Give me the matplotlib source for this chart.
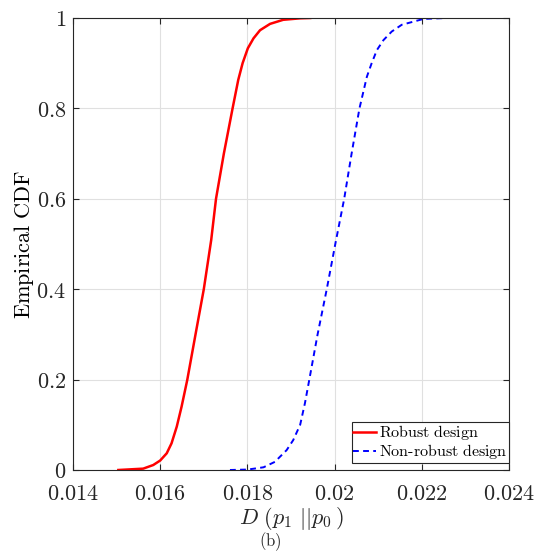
import numpy as np
import matplotlib
matplotlib.use('Agg')
import matplotlib.pyplot as plt
from matplotlib.ticker import FixedLocator, FuncFormatter

# Empirical CDF points
robust_x = [0.01504, 0.01561, 0.01584, 0.01600, 0.01615, 0.01626, 0.01638, 0.01649,
            0.01662, 0.01681, 0.01700, 0.01717, 0.01728, 0.01746, 0.01766, 0.01779,
            0.01789, 0.01801, 0.01814, 0.01829, 0.01852, 0.01882, 0.01921, 0.01944]
robust_y = [0.0, 0.003, 0.011, 0.021, 0.037, 0.059, 0.096, 0.140,
            0.199, 0.300, 0.400, 0.509, 0.600, 0.700, 0.800, 0.863,
            0.900, 0.933, 0.955, 0.973, 0.987, 0.996, 0.9993, 1.0]

nonrobust_x = [0.01760, 0.01801, 0.01837, 0.01863, 0.01890, 0.01905, 0.01921, 0.01932,
               0.01942, 0.01961, 0.01982, 0.02002, 0.02022, 0.02039, 0.02057, 0.02074,
               0.02085, 0.02097, 0.02112, 0.02131, 0.02154, 0.02181, 0.02204, 0.02257]
nonrobust_y = [0.0, 0.001, 0.006, 0.018, 0.044, 0.066, 0.100, 0.148,
               0.200, 0.300, 0.400, 0.502, 0.600, 0.700, 0.800, 0.870,
               0.900, 0.929, 0.951, 0.970, 0.985, 0.992, 0.998, 1.0]

x_ticks = [0.014, 0.016, 0.018, 0.02, 0.022, 0.024]
y_ticks = [0, 0.2, 0.4, 0.6, 0.8, 1]

plt.rcParams['mathtext.fontset'] = 'cm'
plt.rcParams['font.family'] = ['DejaVu Serif']

axcol = '#262626'

fig = plt.figure(figsize=(5.37, 5.54), dpi=100)
ax = fig.add_axes([73 / 537, 84 / 554, 436 / 537, 452 / 554])

ax.plot(robust_x, robust_y, color='red', lw=1.8, label=r'$\mathrm{Robust\ design}$')
ax.plot(nonrobust_x, nonrobust_y, color='blue', lw=1.4, linestyle=(0, (3, 2.2)),
        label=r'$\mathrm{Non\text{-}robust\ design}$')

ax.set_xlim(0.014, 0.024)
ax.set_ylim(0, 1)
ax.xaxis.set_major_locator(FixedLocator(x_ticks))
ax.yaxis.set_major_locator(FixedLocator(y_ticks))
ax.xaxis.set_major_formatter(FuncFormatter(lambda v, p: '$%g$' % round(v, 4)))
ax.yaxis.set_major_formatter(FuncFormatter(lambda v, p: '$%g$' % round(v, 2)))

ax.grid(True, color='#e0e0e0', lw=0.8)
ax.set_axisbelow(True)
for s in ax.spines.values():
    s.set_color(axcol)
    s.set_linewidth(0.8)
ax.tick_params(direction='in', length=4, width=0.8, color=axcol, labelcolor=axcol,
               labelsize=16, top=True, right=True, pad=5)
ax.tick_params(axis='x', pad=9)

ax.set_ylabel(r'$\mathrm{Empirical\ CDF}$', fontsize=16, color='black', labelpad=0)
ax.set_xlabel(r'$D\ (p_1\ ||p_0\,)$', fontsize=16, color=axcol, labelpad=0)

leg = ax.legend(loc='lower right', bbox_to_anchor=(1.0, 0.0155), borderaxespad=0,
                fontsize=11.5, handlelength=1.45, handletextpad=0.15, borderpad=0.1,
                labelspacing=0.0, fancybox=False, framealpha=1)
leg.get_frame().set_edgecolor(axcol)
leg.get_frame().set_linewidth(0.8)

fig.text(0.503, 0.022, r'$\mathrm{(b)}$', fontsize=12, color=axcol,
         ha='center', va='center')

fig.savefig('out.png', dpi=100)
